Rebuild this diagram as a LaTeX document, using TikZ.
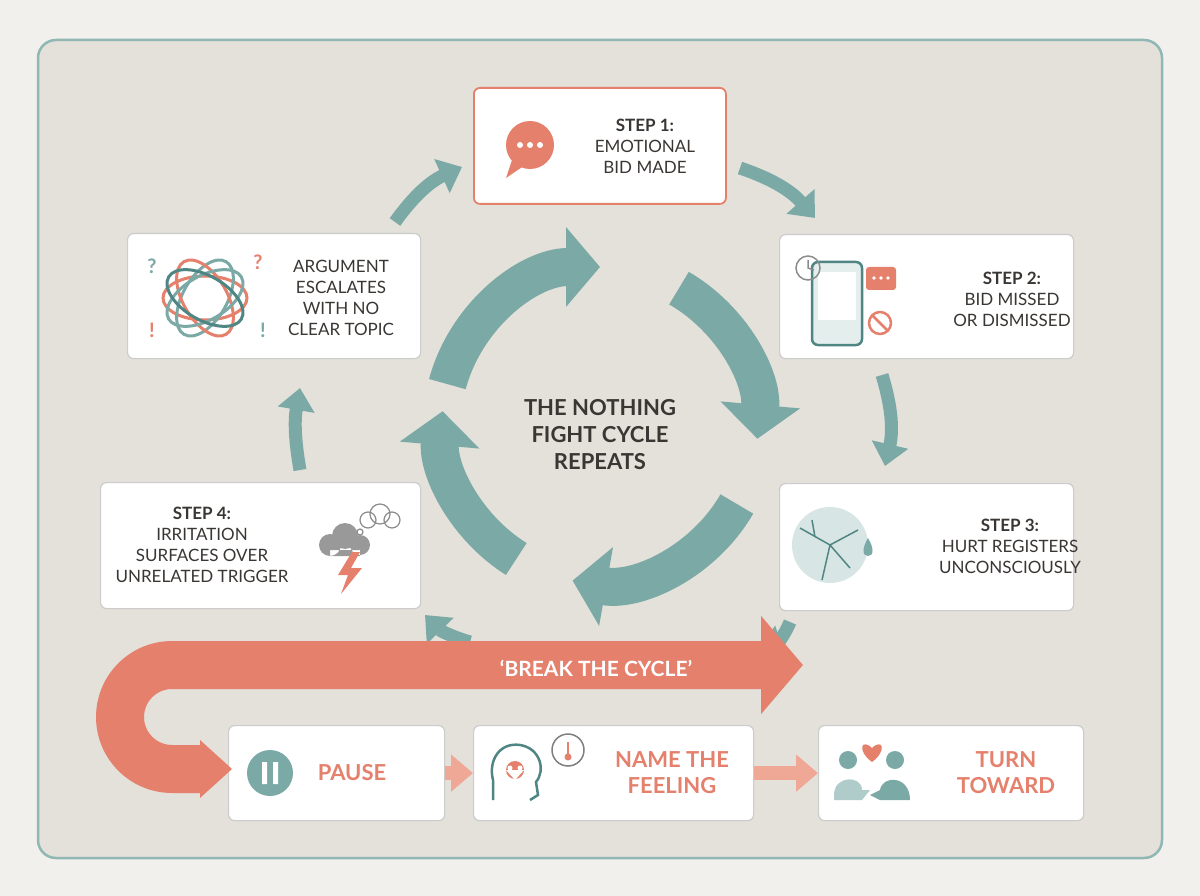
\documentclass[tikz,border=0pt]{standalone}
\usepackage{fontspec}
\setmainfont{Lato}
\usetikzlibrary{arrows.meta,shapes.geometric,calc}
\definecolor{bg}{HTML}{F2F0EC}
\definecolor{panel}{HTML}{E4E0DA}
\definecolor{frame}{HTML}{8FB8B5}
\definecolor{teal}{HTML}{7AA9A6}
\definecolor{dteal}{HTML}{4F8683}
\definecolor{red}{HTML}{E5806C}
\definecolor{lred}{HTML}{F0A896}
\definecolor{ink}{HTML}{3A3634}
\begin{document}
\begin{tikzpicture}[x=1pt,y=-1pt,
 box/.style={draw=black!20,line width=1.2,fill=white,rounded corners=6},
 txt/.style={font=\fontsize{17}{21}\selectfont,text=ink,align=center},
 btxt/.style={font=\fontsize{22}{26}\selectfont\bfseries,text=red,align=center},
 ring/.style={teal,line width=38,-{Triangle[length=34,width=78]}},
 small/.style={teal,line width=13,-{Triangle[length=22,width=36]}},
 rarr/.style={lred,line width=14,-{Triangle[length=22,width=36]}}]
\useasboundingbox (0,0) rectangle (1200,896);
\fill[bg] (0,0) rectangle (1200,896);
\draw[frame,line width=2.5,fill=panel,rounded corners=18] (38,40) rectangle (1162,858);
% ring
\coordinate (C) at (600,425);
\draw[ring] ([shift={(-165:158)}]C) arc[start angle=-165,end angle=-90,radius=158];
\draw[ring] ([shift={(-60:158)}]C) arc[start angle=-60,end angle=5,radius=158];
\draw[ring] ([shift={(30:158)}]C) arc[start angle=30,end angle=100,radius=158];
\draw[ring] ([shift={(122:158)}]C) arc[start angle=122,end angle=185,radius=158];
\node[font=\fontsize{22}{27}\selectfont\bfseries,text=ink,align=center] (title) at (600,435) {THE NOTHING\\FIGHT CYCLE\\REPEATS};
% boxes
\node[box,draw=red,line width=1.8,minimum width=252,minimum height=116,anchor=north west] (s1) at (473,87) {};
\node[box,minimum width=294,minimum height=124,anchor=north west] (s2) at (779,234) {};
\node[box,minimum width=294,minimum height=127,anchor=north west] (s3) at (779,483) {};
\node[box,minimum width=320,minimum height=126,anchor=north west] (s4) at (100,482) {};
\node[box,minimum width=293,minimum height=125,anchor=north west] (s5) at (127,233) {};
\node[box,minimum width=216,minimum height=95,anchor=north west] (p1) at (228,725) {};
\node[box,minimum width=280,minimum height=95,anchor=north west] (p2) at (473,725) {};
\node[box,minimum width=265,minimum height=95,anchor=north west] (p3) at (818,725) {};
% texts
\node[txt] (t1) at (645,146) {\textbf{STEP 1:}\\EMOTIONAL\\BID MADE};
\node[txt] (t2) at (1012,299) {\textbf{STEP 2:}\\BID MISSED\\OR DISMISSED};
\node[txt] (t3) at (1010,546) {\textbf{STEP 3:}\\HURT REGISTERS\\UNCONSCIOUSLY};
\node[txt] (t4) at (202,545) {\textbf{STEP 4:}\\IRRITATION\\SURFACES OVER\\UNRELATED TRIGGER};
\node[txt] (t5) at (341,298) {ARGUMENT\\ESCALATES\\WITH NO\\CLEAR TOPIC};
\node[btxt] (b1) at (352,773) {PAUSE};
\node[btxt] (b2) at (672,773) {NAME THE\\FEELING};
\node[btxt] (b3) at (1006,773) {TURN\\TOWARD};
% small teal arrows
\draw[small] (395,222) to[bend left=15] (462,167);
\draw[small] (740,168) to[bend left=15] (815,218);
\draw[small] (882,375) to[bend left=15] (885,466);
\draw[small] (300,470) to[bend left=10] (300,388);
\draw[small] (790,622) to[bend left=25] (760,650);
\draw[small] (470,642) to[bend left=15] (425,615);
% red break arrow
\draw[red,line width=48,line join=round,-{Triangle[length=42,width=96]}]
  (200,769) -- (172,769) arc[start angle=90,end angle=270,radius=52] -- (803,665);
\fill[red] (200,740) -- (232,769) -- (200,798) -- cycle;
\node[font=\fontsize{21}{25}\selectfont\bfseries,text=white] (brk) at (596,668) {‘BREAK THE CYCLE’};
% red small arrows
\draw[rarr] (p1.east) -- (p2.west);
\draw[rarr] (p2.east) -- (p3.west);
% icons
\fill[red] (530,145) circle (24);
\fill[red] (512,160) -- (506,178) -- (525,165) -- cycle;
\foreach \dx in {-10,0,10} \fill[white] (530+\dx,145) circle (3);
\draw[dteal,line width=2.5,rounded corners=6,fill=teal!20] (812,262) rectangle (862,345);
\fill[white] (818,272) rectangle (856,320);
\draw[black!45,line width=1.5] (808,268) circle (12);
\draw[black!45,line width=1.5] (808,260) -- (808,268) -- (814,270);
\fill[red,rounded corners=3] (866,267) rectangle (896,290);
\foreach \dx in {-7,0,7} \fill[white] (881+\dx,278) circle (1.8);
\draw[red,line width=2.5] (880,323) circle (11); \draw[red,line width=2.5] (872,315) -- (888,331);
\fill[teal!30] (830,545) circle (38);
\draw[dteal,line width=1.5] (830,545) -- (800,528) (830,545) -- (858,530) (830,545) -- (822,580) (830,545) -- (850,568) (815,537) -- (812,520);
\fill[teal] (868,538) .. controls (862,548) and (862,556) .. (868,556) .. controls (874,556) and (874,548) .. (868,538);
\draw[black!45,fill=white,line width=1.2] (368,520) circle (8) (380,514) circle (10) (392,520) circle (8) (360,532) circle (3);
\fill[black!40] (330,545) circle (11) (345,536) circle (13) (360,545) circle (10) (330,550) rectangle (360,556);
\fill[red] (352,552) -- (338,575) -- (348,575) -- (341,594) -- (362,568) -- (351,568) -- (360,552) -- cycle;
\foreach \a/\c in {0/red,60/teal,120/red,30/teal,150/dteal} \draw[\c,line width=3,rotate around={\a:(205,298)}] (205,298) ellipse (42 and 22);
\node[font=\fontsize{20}{20}\selectfont\bfseries,text=teal] (q1) at (152,266) {?};
\node[font=\fontsize{20}{20}\selectfont\bfseries,text=red] (q2) at (258,262) {?};
\node[font=\fontsize{20}{20}\selectfont\bfseries,text=red] (q3) at (152,330) {!};
\node[font=\fontsize{20}{20}\selectfont\bfseries,text=teal] (q4) at (263,330) {!};
\fill[teal] (270,773) circle (23);
\fill[white] (262,762) rectangle (267,784) (273,762) rectangle (278,784);
\draw[dteal,line width=2.5] (493,800) -- (493,780) .. controls (488,760) and (500,742) .. (520,745) .. controls (540,748) and (546,770) .. (536,782) -- (538,795) -- (530,800);
\fill[red] (515,770) circle (9);
\fill[white] (510,768) circle (2.5) (520,768) circle (2.5) (506,770) -- (515,780) -- (524,770) -- cycle;
\draw[black!50,line width=1.5,fill=white] (568,750) circle (16);
\draw[red,line width=2] (568,742) -- (568,754); \fill[red] (568,757) circle (3.5);
\fill[teal] (848,760) circle (9) (895,760) circle (9);
\fill[teal!60] (834,795) .. controls (834,775) and (862,775) .. (862,790) -- (870,790) -- (862,800) -- (834,800) -- cycle;
\fill[teal] (910,800) .. controls (910,775) and (882,775) .. (880,790) -- (870,795) -- (880,800) -- cycle;
\fill[red] (872,748) .. controls (862,738) and (856,750) .. (872,762) .. controls (888,750) and (882,738) .. (872,748);
\end{tikzpicture}
\end{document}
